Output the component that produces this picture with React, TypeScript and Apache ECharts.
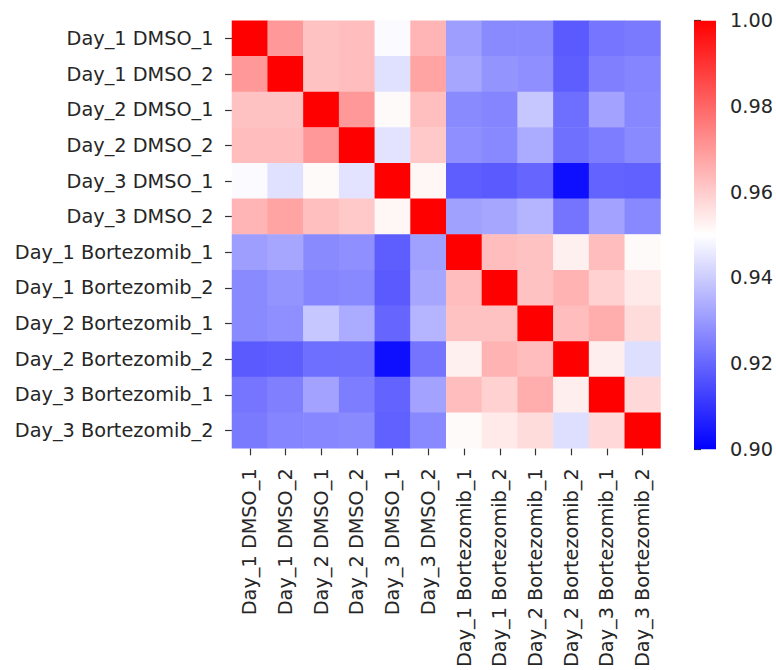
import React, { useEffect, useRef } from "react";
import * as echarts from "echarts";

const labels = [
  "Day_1 DMSO_1",
  "Day_1 DMSO_2",
  "Day_2 DMSO_1",
  "Day_2 DMSO_2",
  "Day_3 DMSO_1",
  "Day_3 DMSO_2",
  "Day_1 Bortezomib_1",
  "Day_1 Bortezomib_2",
  "Day_2 Bortezomib_1",
  "Day_2 Bortezomib_2",
  "Day_3 Bortezomib_1",
  "Day_3 Bortezomib_2",
];

const corr: number[][] = [
  [1.0, 0.97, 0.962, 0.963, 0.949, 0.9645, 0.931, 0.927, 0.927, 0.9176, 0.923, 0.924],
  [0.97, 1.0, 0.962, 0.963, 0.944, 0.968, 0.9325, 0.929, 0.928, 0.9185, 0.925, 0.926],
  [0.962, 0.962, 1.0, 0.97, 0.951, 0.9625, 0.927, 0.926, 0.939, 0.9216, 0.932, 0.9265],
  [0.963, 0.963, 0.97, 1.0, 0.9445, 0.9606, 0.928, 0.9267, 0.9335, 0.922, 0.9245, 0.927],
  [0.949, 0.944, 0.951, 0.9445, 1.0, 0.9517, 0.9185, 0.9176, 0.92, 0.903, 0.9195, 0.919],
  [0.9645, 0.968, 0.9625, 0.9606, 0.9517, 1.0, 0.9314, 0.9325, 0.9355, 0.9227, 0.932, 0.9267],
  [0.931, 0.9325, 0.927, 0.928, 0.9185, 0.9314, 1.0, 0.963, 0.962, 0.953, 0.963, 0.951],
  [0.927, 0.929, 0.926, 0.9267, 0.9176, 0.9325, 0.963, 1.0, 0.962, 0.965, 0.959, 0.9543],
  [0.927, 0.928, 0.939, 0.9335, 0.92, 0.9355, 0.962, 0.962, 1.0, 0.963, 0.966, 0.9569],
  [0.9176, 0.9185, 0.9216, 0.922, 0.903, 0.9227, 0.953, 0.965, 0.963, 1.0, 0.9533, 0.9435],
  [0.923, 0.925, 0.932, 0.9245, 0.9195, 0.932, 0.963, 0.959, 0.966, 0.9533, 1.0, 0.9575],
  [0.924, 0.926, 0.9265, 0.927, 0.919, 0.9267, 0.951, 0.9543, 0.9569, 0.9435, 0.9575, 1.0],
];

const colorMin = 0.9;
const colorMax = 1.0;
const colorTicks = [0.9, 0.92, 0.94, 0.96, 0.98, 1.0];

const FONT = "DejaVu Sans";
const FS = 19.3;
const TXT = "#262626";

export default function App() {
  const ref = useRef<HTMLDivElement>(null);

  useEffect(() => {
    if (!ref.current) return;
    const chart = echarts.init(ref.current, undefined, { renderer: "svg" });
    const data: [number, number, number][] = [];
    corr.forEach((row, i) => row.forEach((v, j) => data.push([j, i, v])));

    const hm = { left: 232, top: 20.7, width: 428.5, height: 428.5 };
    const cb = { left: 694, top: 20.7, width: 22, height: 428.5 };

    chart.setOption({
      animation: false,
      backgroundColor: "#ffffff",
      grid: [
        { ...hm, containLabel: false },
        { ...cb, containLabel: false },
      ],
      xAxis: [
        {
          type: "category",
          data: labels,
          gridIndex: 0,
          position: "bottom",
          axisLine: { show: false },
          axisTick: { show: true, length: 7, alignWithLabel: true, lineStyle: { color: "#333", width: 1.2 } },
          axisLabel: { rotate: 90, interval: 0, margin: 20, fontFamily: FONT, fontSize: FS, color: TXT },
          splitLine: { show: false },
        },
        { type: "value", gridIndex: 1, show: false, min: 0, max: 1 },
      ],
      yAxis: [
        {
          type: "category",
          data: labels,
          gridIndex: 0,
          inverse: true,
          axisLine: { show: false },
          axisTick: { show: true, length: 7, alignWithLabel: true, lineStyle: { color: "#333", width: 1.2 } },
          axisLabel: { interval: 0, margin: 18.5, fontFamily: FONT, fontSize: FS, color: TXT },
          splitLine: { show: false },
        },
        {
          type: "value",
          gridIndex: 1,
          position: "right",
          min: colorMin,
          max: colorMax,
          interval: 0.02,
          axisLine: { show: false },
          axisTick: { show: true, length: 7, lineStyle: { color: "#333", width: 1.2 } },
          axisLabel: {
            margin: 14,
            fontFamily: FONT,
            fontSize: FS,
            color: TXT,
            formatter: (v: number) => (colorTicks.some((t) => Math.abs(t - v) < 1e-6) ? v.toFixed(2) : ""),
          },
          splitLine: { show: false },
        },
      ],
      visualMap: {
        type: "continuous",
        min: colorMin,
        max: colorMax,
        show: false,
        seriesIndex: 0,
        inRange: { color: ["#0000ff", "#ffffff", "#ff0000"] },
      },
      graphic: [
        {
          type: "rect",
          shape: { x: cb.left, y: cb.top, width: cb.width, height: cb.height },
          style: {
            fill: new echarts.graphic.LinearGradient(0, 0, 0, 1, [
              { offset: 0, color: "#ff0000" },
              { offset: 0.5, color: "#ffffff" },
              { offset: 1, color: "#0000ff" },
            ]),
          },
          z: 10,
        },
      ],
      series: [
        {
          type: "heatmap",
          xAxisIndex: 0,
          yAxisIndex: 0,
          data,
          itemStyle: { borderWidth: 0 },
          emphasis: { disabled: true },
        },
        {
          type: "line",
          xAxisIndex: 1,
          yAxisIndex: 1,
          data: [],
          silent: true,
        },
      ],
    });
    return () => chart.dispose();
  }, []);

  return (
    <div
      ref={ref}
      style={{ position: "fixed", left: 0, top: 0, width: 776, height: 670 }}
    />
  );
}
